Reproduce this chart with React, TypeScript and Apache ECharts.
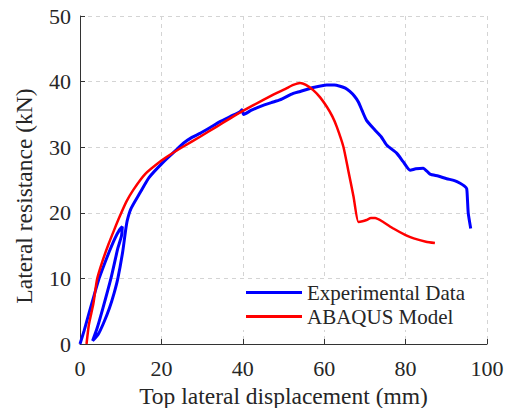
import React, { useEffect, useRef } from "react";
import * as echarts from "echarts";

const xTicks = [0, 20, 40, 60, 80, 100];
const yTicks = [0, 10, 20, 30, 40, 50];

const seriesNames = ["Experimental Data", "ABAQUS Model"];

const expDisp = [
  0, 1, 2.3, 3.5, 4.7, 6, 7.2, 8.5, 9.7, 10.4,
  10.2, 9.3, 7.6, 5.6, 4.2, 3.1,
  4.5, 5.8, 7.2, 8.4, 9.3, 10.5, 11.2,
  11.6, 12.5, 14.7, 17, 20.1, 23, 25.4, 27.5, 29.5, 32, 34.4, 37, 39.3, 39.8, 40.2,
  42, 44.2, 47, 49.1, 52.4, 54.1, 57.3, 60.6, 62.5, 63.9, 65.2, 66.3, 67.4, 68.4, 69.3, 70.4,
  72.5, 74, 75.4, 77.8, 79.4, 81.1, 82.5, 84.3, 86, 88, 90.1, 92, 93.4, 94.4, 95, 95.2, 95.4, 96,
];
const expLoad = [
  0, 2, 4.9, 7.5, 10, 12.2, 14.1, 16, 17.4, 17.9,
  16.5, 14.6, 10, 5.4, 2.4, 0.5,
  1.5, 3.2, 5.4, 7.8, 10, 14.1, 17.3,
  18.8, 20.6, 23.0, 25.4, 27.5, 29.2, 30.6, 31.5, 32.1, 33.0, 33.9, 34.7, 35.4, 35.7, 35.0,
  35.6, 36.2, 36.8, 37.2, 38.2, 38.5, 39.1, 39.5, 39.5, 39.3, 39.0, 38.5, 37.8, 36.9, 35.6, 34.1,
  32.6, 31.6, 30.3, 29.1, 27.8, 26.5, 26.7, 26.8, 25.9, 25.6, 25.2, 24.9, 24.5, 24.1, 23.7, 22.0, 19.9, 17.6,
];

const modelDisp = [
  1.6, 2.2, 3.3, 4.2, 5.5, 7, 8.4, 9.8, 11.4, 13.1, 16, 20.1, 22.5, 25.4, 29.5, 33.5, 37.7,
  42.6, 47.5, 50.5, 52.4, 54.1, 55.5, 57.3, 59, 60.6, 62, 63.1, 64.7, 65.9, 67.2, 68.4,
  69.4, 70.4, 71.5, 72.5, 74.5, 77, 80, 82, 85, 87.2,
];
const modelLoad = [
  0, 3, 6.2, 9.9, 12.6, 15.2, 17.4, 19.5, 21.7, 23.5, 25.9, 28.0, 29.0, 30.1, 31.6, 33.1, 34.7,
  36.4, 38.0, 38.9, 39.5, 39.8, 39.5, 38.7, 37.6, 36.2, 34.7, 33.1, 30.1, 26.5, 22.5, 18.6,
  18.7, 18.9, 19.2, 19.2, 18.6, 17.6, 16.6, 16.1, 15.6, 15.4,
];

const zip = (xs: number[], ys: number[]) => xs.map((x, i) => [x, ys[i]]);

const FONT = "'Liberation Serif', 'Times New Roman', serif";
const TEXT = "#262626";

export default function App() {
  const ref = useRef<HTMLDivElement>(null);
  useEffect(() => {
    document.body.style.margin = "0";
    if (!ref.current) return;
    const chart = echarts.init(ref.current, undefined, { renderer: "svg" });
    const gridLine = { show: true, lineStyle: { color: "#d4d4d4", type: [4, 4] as any, width: 1 } };
    chart.setOption({
      animation: false,
      backgroundColor: "#fff",
      textStyle: { fontFamily: FONT },
      grid: { left: 80, right: 26, top: 16, bottom: 64, outerBoundsMode: "none", containLabel: false },
      xAxis: {
        type: "value",
        min: xTicks[0],
        max: xTicks[xTicks.length - 1],
        interval: 20,
        name: "Top lateral displacement (mm)",
        nameLocation: "middle",
        nameGap: 39,
        nameTextStyle: { fontFamily: FONT, fontSize: 23.5, color: TEXT, lineHeight: 22 },
        axisLine: { show: true, lineStyle: { color: "#333", width: 1 } },
        axisTick: { show: true, inside: true, length: 5, lineStyle: { color: "#333" } },
        axisLabel: { fontFamily: FONT, fontSize: 22, color: TEXT, margin: 13 },
        splitLine: gridLine,
      },
      yAxis: {
        type: "value",
        min: yTicks[0],
        max: yTicks[yTicks.length - 1],
        interval: 10,
        axisLine: { show: true, lineStyle: { color: "#333", width: 1 } },
        axisTick: { show: true, inside: true, length: 5, lineStyle: { color: "#333" } },
        axisLabel: { fontFamily: FONT, fontSize: 22, color: TEXT, margin: 9 },
        splitLine: gridLine,
      },
      legend: {
        orient: "vertical",
        left: 240,
        top: 279,
        padding: [3, 6, 3, 6],
        backgroundColor: "#fff",
        icon: "rect",
        itemWidth: 56,
        itemHeight: 3,
        itemGap: 3,
        textStyle: { fontFamily: FONT, fontSize: 21, color: TEXT, lineHeight: 20 },
        data: seriesNames,
      },
      graphic: [
        {
          type: "text",
          x: 24,
          y: 196,
          rotation: Math.PI / 2,
          style: {
            text: "Lateral resistance (kN)",
            fontFamily: FONT,
            fontSize: 23.5,
            fill: TEXT,
            align: "center",
            verticalAlign: "middle",
          },
        },
      ],
      series: [
        {
          name: seriesNames[0],
          type: "line",
          data: zip(expDisp, expLoad),
          showSymbol: false,
          symbol: "none",
          smooth: 0.2,
          lineStyle: { color: "#0000ff", width: 3 },
          itemStyle: { color: "#0000ff" },
          z: 3,
        },
        {
          name: seriesNames[1],
          type: "line",
          data: zip(modelDisp, modelLoad),
          showSymbol: false,
          symbol: "none",
          smooth: 0.2,
          lineStyle: { color: "#ff0000", width: 2.5 },
          itemStyle: { color: "#ff0000" },
          z: 4,
        },
      ],
    });
    return () => chart.dispose();
  }, []);
  return <div ref={ref} style={{ width: 513, height: 408 }} />;
}
